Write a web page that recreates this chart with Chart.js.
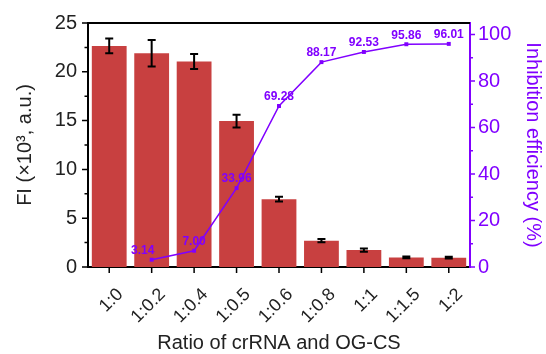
<!DOCTYPE html>
<html>
<head>
<meta charset="utf-8">
<script src="https://cdn.jsdelivr.net/npm/chart.js@4.4.0/dist/chart.umd.min.js"></script>
<style>
  html, body { margin: 0; padding: 0; background: #fff; }
  #wrap { width: 546px; height: 354px; }
</style>
</head>
<body>
<div id="wrap"><canvas id="c" width="546" height="354"></canvas></div>
<script>
const categories = ['1:0', '1:0.2', '1:0.4', '1:0.5', '1:0.6', '1:0.8', '1:1', '1:1.5', '1:2'];
const fiValues = [22.65, 21.9, 21.05, 14.95, 6.95, 2.7, 1.73, 0.98, 0.95];
const fiErrors = [0.75, 1.35, 0.77, 0.65, 0.25, 0.16, 0.16, 0.09, 0.09];
const inhibition = [null, 3.14, 7.00, 33.96, 69.28, 88.17, 92.53, 95.86, 96.01];
const inhibitionLabels = [null, '3.14', '7.00', '33.96', '69.28', '88.17', '92.53', '95.86', '96.01'];
const leftTicks = [0, 5, 10, 15, 20, 25];
const rightTicks = [0, 20, 40, 60, 80, 100];

const BAR = 'rgb(200,64,64)';
const PURPLE = '#8000ff';
const FONT = "'Liberation Sans', Arial, sans-serif";

const errorBars = {
  id: 'errorBars',
  afterDatasetDraw(chart, args) {
    if (args.index !== 0) return;
    const ctx = chart.ctx;
    const y = chart.scales.y;
    const meta = args.meta;
    ctx.save();
    ctx.strokeStyle = '#000';
    ctx.lineWidth = 2;
    meta.data.forEach((bar, i) => {
      const x = bar.x;
      const yTop = y.getPixelForValue(fiValues[i] + fiErrors[i]);
      const yBot = y.getPixelForValue(fiValues[i] - fiErrors[i]);
      ctx.beginPath();
      ctx.moveTo(x, yTop); ctx.lineTo(x, yBot);
      ctx.moveTo(x - 4, yTop); ctx.lineTo(x + 4, yTop);
      ctx.moveTo(x - 4, yBot); ctx.lineTo(x + 4, yBot);
      ctx.stroke();
    });
    ctx.restore();
  }
};

const axisDecor = {
  id: 'axisDecor',
  afterDraw(chart) {
    const ctx = chart.ctx;
    const {left, right, top, bottom} = chart.chartArea;
    const y = chart.scales.y, y2 = chart.scales.y2, x = chart.scales.x;
    ctx.save();
    ctx.strokeStyle = '#000';
    ctx.lineWidth = 2;
    ctx.beginPath(); ctx.moveTo(left, top); ctx.lineTo(right, top); ctx.stroke();
    ctx.lineWidth = 1.5;
    ctx.beginPath();
    for (let v = 0; v <= 25; v += 2.5) {
      const py = y.getPixelForValue(v);
      const len = (Math.abs(v % 5) < 1e-6) ? 6 : 3.5;
      ctx.moveTo(left, py); ctx.lineTo(left - len, py);
    }
    categories.forEach((c, i) => {
      const px = x.getPixelForValue(i);
      ctx.moveTo(px, bottom); ctx.lineTo(px, bottom + 6);
    });
    ctx.stroke();
    ctx.strokeStyle = PURPLE;
    ctx.beginPath();
    for (let v = 0; v <= 100; v += 10) {
      const py = y2.getPixelForValue(v);
      const len = (v % 20 === 0) ? 5 : 3;
      ctx.moveTo(right, py); ctx.lineTo(right + len, py);
    }
    ctx.stroke();
    ctx.restore();
  }
};

const pointLabels = {
  id: 'pointLabels',
  afterDatasetsDraw(chart) {
    const ctx = chart.ctx;
    const meta = chart.getDatasetMeta(1);
    ctx.save();
    ctx.fillStyle = PURPLE;
    ctx.font = "bold 12px " + FONT;
    ctx.textAlign = 'center';
    ctx.textBaseline = 'bottom';
    meta.data.forEach((pt, i) => {
      if (inhibition[i] == null) return;
      const dx = i === 1 ? -9 : 0;
      ctx.fillText(inhibitionLabels[i], pt.x + dx, pt.y - 3);
    });
    ctx.restore();
  }
};

new Chart(document.getElementById('c'), {
  data: {
    labels: categories,
    datasets: [
      {
        type: 'bar',
        data: fiValues,
        backgroundColor: BAR,
        borderWidth: 0,
        yAxisID: 'y',
        barPercentage: 0.82,
        categoryPercentage: 1.0,
        order: 1
      },
      {
        type: 'line',
        data: inhibition,
        borderColor: PURPLE,
        backgroundColor: PURPLE,
        borderWidth: 1.5,
        pointStyle: 'rect',
        pointRadius: 2.8,
        pointBorderWidth: 0,
        tension: 0,
        spanGaps: false,
        yAxisID: 'y2',
        order: 0
      }
    ]
  },
  options: {
    responsive: false,
    animation: false,
    devicePixelRatio: 1,
    layout: { padding: { top: 22, left: 0, right: 0, bottom: 0 } },
    plugins: { legend: { display: false }, tooltip: { enabled: false } },
    scales: {
      x: {
        offset: true,
        grid: { display: false, drawTicks: false },
        border: { display: true, color: '#000', width: 2 },
        ticks: {
          color: '#222',
          font: { family: FONT, size: 18 },
          minRotation: 45, maxRotation: 45,
          padding: 17,
          labelOffset: 11,
          autoSkip: false
        },
        title: {
          display: true,
          text: 'Ratio of crRNA and OG-CS',
          color: '#222',
          font: { family: FONT, size: 20 },
          padding: { top: 0, bottom: -1 }
        },
        afterFit(s) { s.height = 87; }
      },
      y: {
        position: 'left',
        min: 0, max: 25,
        afterBuildTicks(s) { s.ticks = leftTicks.map(v => ({ value: v })); },
        grid: { display: false, drawTicks: false },
        border: { display: true, color: '#000', width: 2 },
        ticks: {
          color: '#222',
          font: { family: FONT, size: 20 },
          padding: 11
        },
        title: {
          display: true,
          text: 'FI (×10³, a.u.)',
          color: '#222',
          font: { family: FONT, size: 20 },
          padding: { top: 13, bottom: 0 }
        },
        afterFit(s) { s.width = 88; }
      },
      y2: {
        position: 'right',
        min: 0, max: 105,
        afterBuildTicks(s) { s.ticks = rightTicks.map(v => ({ value: v })); },
        grid: { display: false, drawTicks: false },
        border: { display: true, color: PURPLE, width: 2 },
        ticks: {
          color: PURPLE,
          font: { family: FONT, size: 20 },
          padding: 8
        },
        title: {
          display: true,
          text: 'Inhibition efficiency (%)',
          color: PURPLE,
          font: { family: FONT, size: 20 },
          padding: { top: 1, bottom: 0 }
        },
        afterFit(s) { s.width = 76; }
      }
    }
  },
  plugins: [errorBars, axisDecor, pointLabels]
});
</script>
</body>
</html>
